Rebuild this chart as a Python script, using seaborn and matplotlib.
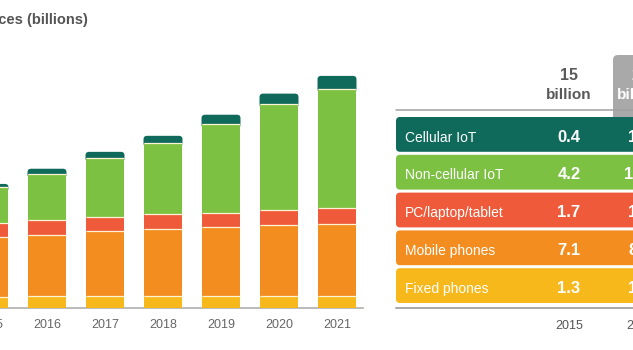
import numpy as np
import pandas as pd
import matplotlib
matplotlib.use("Agg")
import matplotlib.pyplot as plt
import seaborn as sns
from matplotlib.patches import FancyBboxPatch

# Connected devices per year, billions
years = ["2015", "2016", "2017", "2018", "2019", "2020", "2021"]
fixed_phones = [1.3, 1.4, 1.4, 1.4, 1.4, 1.4, 1.4]
mobile_phones = [7.1, 7.3, 7.7, 8.0, 8.2, 8.4, 8.6]
pc_laptop_tablet = [1.7, 1.7, 1.7, 1.7, 1.7, 1.8, 1.8]
non_cellular_iot = [4.2, 5.5, 7.0, 8.5, 10.5, 12.6, 14.2]
cellular_iot = [0.4, 0.6, 0.7, 0.8, 1.1, 1.2, 1.5]

table_years = ["2015", "2021"]
table_totals = ["15", "28"]
series_names = ["Cellular IoT", "Non-cellular IoT", "PC/laptop/tablet",
                "Mobile phones", "Fixed phones"]

TEAL, GREEN, RED, ORANGE, YELLOW = "#0f6a5c", "#7cc142", "#ee5a3a", "#f38d1f", "#f7b81c"
SEP = "#fff3d6"

sns.set_theme(style="white")
plt.rcParams["font.family"] = ["Liberation Sans", "DejaVu Sans"]

W, H = 633, 350
fig = plt.figure(figsize=(W / 100, H / 100), dpi=100)

# ---- stacked bar chart -------------------------------------------------
cat_px = 58.0          # pixel spacing between categories
first_px = -11.0       # pixel centre of the first category
left_px, right_px = -60.0, 363.0
base_px = 308.0
px_per_unit = 8.44

ax = fig.add_axes([left_px / W, (H - base_px) / H,
                   (right_px - left_px) / W, base_px / H])
ax.set_facecolor("none")

df = pd.DataFrame({
    "year": years,
    "Fixed phones": fixed_phones,
    "Mobile phones": mobile_phones,
    "PC/laptop/tablet": pc_laptop_tablet,
    "Non-cellular IoT": non_cellular_iot,
    "Cellular IoT": cellular_iot,
})

layers = [("Fixed phones", YELLOW), ("Mobile phones", ORANGE),
          ("PC/laptop/tablet", RED), ("Non-cellular IoT", GREEN),
          ("Cellular IoT", TEAL)]
bottom = np.zeros(len(years))
for name, col in layers:
    sns.barplot(data=df, x="year", y=name, bottom=bottom.copy(), color=col,
                saturation=1, width=0.672, edgecolor="none", linewidth=0,
                zorder=3, ax=ax)
    bottom += df[name].to_numpy()

# thin light separators at the foot of every stacked segment above the first
for cont in ax.containers[1:]:
    for p in cont.patches:
        ax.hlines(p.get_y(), p.get_x(), p.get_x() + p.get_width(),
                  color=SEP, lw=0.9, capstyle="butt", zorder=4)

# give the top segment rounded upper corners; it is extended slightly
# downward under the segment below so only the upper corners show
top_bars = ax.containers[-1]
r_x = 3.5 / cat_px
aspect = cat_px / px_per_unit
ext = 0.5
for p in top_bars.patches:
    x, y, w, h = p.get_x(), p.get_y(), p.get_width(), p.get_height()
    p.set_visible(False)
    ax.add_patch(FancyBboxPatch((x, y - ext), w, h + ext,
                                boxstyle=f"round,pad=0,rounding_size={r_x}",
                                mutation_aspect=aspect, fc=TEAL, ec="none",
                                zorder=2.5))

ax.set_xlim((left_px - first_px) / cat_px, (right_px - first_px) / cat_px)
ax.set_ylim(0, base_px / px_per_unit)
ax.set_xlabel("")
ax.set_ylabel("")
ax.set_yticks([])
for s in ("top", "right", "left"):
    ax.spines[s].set_visible(False)
ax.spines["bottom"].set_color("#a8a8a8")
ax.spines["bottom"].set_linewidth(1.1)
ax.tick_params(axis="x", length=0, pad=8, labelsize=9, labelcolor="#666666")

# ---- title and summary table ---------------------------------------------
tab = fig.add_axes([0, 0, 1, 1])
tab.set_facecolor("none")
tab.set_xlim(0, W)
tab.set_ylim(H, 0)
tab.axis("off")

tab.text(88, 24, "Connected devices (billions)", ha="right", va="baseline",
         fontsize=10.5, fontweight="bold", color="#555555")

col_x = [569, 640]
# highlighted header for the forecast column
tab.add_patch(FancyBboxPatch((613, 55), 90, 70,
                             boxstyle="round,pad=0,rounding_size=5",
                             fc="#a9a9a9", ec="none", zorder=1))
head_colors = ["#5a5a5a", "white"]
for cx, tot, hc in zip(col_x, table_totals, head_colors):
    tab.text(cx, 80, tot, ha="center", va="baseline", fontsize=11.5,
             fontweight="bold", color=hc, zorder=3)
    tab.text(cx, 99, "billion", ha="center", va="baseline", fontsize=11,
             fontweight="bold", color=hc, zorder=3)

tab.plot([396, 640], [110, 110], color="#a0a0a0", lw=1.1, zorder=2)

row_vals = {
    "Cellular IoT": cellular_iot,
    "Non-cellular IoT": non_cellular_iot,
    "PC/laptop/tablet": pc_laptop_tablet,
    "Mobile phones": mobile_phones,
    "Fixed phones": fixed_phones,
}
row_colors = [TEAL, GREEN, RED, ORANGE, YELLOW]
row_top, pitch, row_h = 117.0, 37.8, 34.8
for i, (name, col) in enumerate(zip(series_names, row_colors)):
    top = row_top + pitch * i
    tab.add_patch(FancyBboxPatch((396, top), 330, row_h,
                                 boxstyle="round,pad=0,rounding_size=4",
                                 fc=col, ec="none", zorder=2))
    tab.text(405, top + 24.5, name, ha="left", va="baseline", fontsize=10,
             color="white", zorder=3)
    vals = row_vals[name]
    for cx, yr in zip(col_x, table_years):
        v = vals[years.index(yr)]
        tab.text(cx, top + 24.5, f"{v:.1f}", ha="center", va="baseline",
                 fontsize=12, fontweight="bold", color="white", zorder=3)

tab.plot([396, 640], [308, 308], color="#a8a8a8", lw=1.4, zorder=2)
for cx, yr in zip(col_x, table_years):
    tab.text(cx, 329, yr, ha="center", va="baseline", fontsize=9,
             color="#555555")

fig.savefig("out.png", dpi=100)
